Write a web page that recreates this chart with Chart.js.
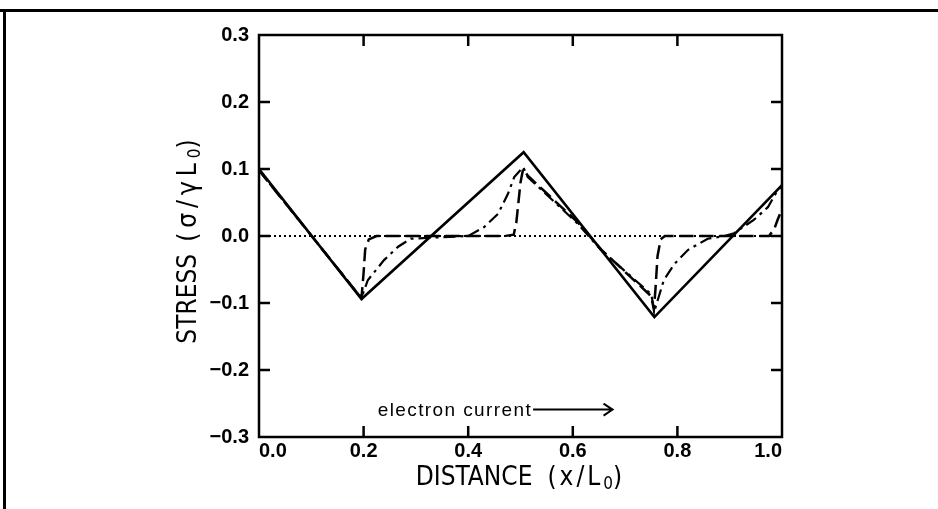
<!DOCTYPE html>
<html>
<head>
<meta charset="utf-8">
<script src="https://cdn.jsdelivr.net/npm/chart.js@4.4.1/dist/chart.umd.min.js"></script>
<style>
  html, body { margin: 0; padding: 0; background: #fff; }
  canvas { display: block; }
</style>
</head>
<body>
<canvas id="stress-chart" width="938" height="509"></canvas>
<script>
// values (x in x/L0, y in sigma/gammaL0)
const solidX = [0.0, 0.196, 0.506, 0.756, 1.0]
const solidY = [0.100, -0.094, 0.125, -0.121, 0.076]

const dashX = [0.0, 0.19, 0.196, 0.2, 0.203, 0.21, 0.225, 0.47, 0.487, 0.492, 0.496, 0.5, 0.505,
  0.514, 0.61, 0.654, 0.75, 0.755, 0.758, 0.762, 0.768, 0.776, 0.975, 0.985, 0.992, 1.0]
const dashY = [0.098, -0.087, -0.092, -0.055, -0.02, -0.005, 0.0, 0.0, 0.002, 0.02, 0.05, 0.08, 0.1,
  0.09, 0.02, -0.02, -0.09, -0.11, -0.08, -0.03, -0.005, 0.0, 0.0, 0.01, 0.025, 0.04]

const dashDotX = [0.0, 0.19, 0.196, 0.208, 0.239, 0.266, 0.29, 0.4, 0.43, 0.457, 0.476, 0.488, 0.505,
  0.514, 0.61, 0.654, 0.75, 0.756, 0.774, 0.794, 0.82, 0.858, 0.89, 0.908, 0.946, 0.973, 0.992, 1.0]
const dashDotY = [0.098, -0.087, -0.092, -0.066, -0.036, -0.016, -0.004, 0.0, 0.013, 0.033, 0.063, 0.088, 0.103,
  0.088, 0.018, -0.021, -0.087, -0.112, -0.066, -0.042, -0.021, -0.004, 0.0, 0.004, 0.024, 0.043, 0.069, 0.074]

const dotX = [0.0, 1.0]
const dotY = [0.0, 0.0]

const xRange = [0.0, 1.0]
const yRange = [-0.3, 0.3]

const xTitle = ['DISTANCE', '(x/L', '0', ')']
const yTitle = ['STRESS', '(σ/γL', '0', ')']
const note = 'electron current'

const pts = (xs, ys) => xs.map((x, i) => ({ x, y: ys[i] }))

const narrow = '"Liberation Sans Narrow", "DejaVu Sans Condensed", sans-serif'

function drawParts(ctx, parts, cx, baseY) {
  let total = 0
  parts.forEach(p => {
    ctx.font = p.font
    ctx.letterSpacing = p.ls || '0px'
    p.w = ctx.measureText(p.t).width + (p.gap || 0)
    total += p.w
  })
  let x = cx - total / 2
  parts.forEach(p => {
    ctx.font = p.font
    ctx.letterSpacing = p.ls || '0px'
    ctx.fillText(p.t, x, baseY + (p.dy || 0))
    x += p.w
  })
  ctx.letterSpacing = '0px'
}

const frameAndTicks = {
  id: 'frameAndTicks',
  beforeDraw(chart) {
    const ctx = chart.ctx
    ctx.save()
    ctx.fillStyle = '#fff'
    ctx.fillRect(0, 0, chart.width, chart.height)
    // scan page border
    ctx.strokeStyle = '#000'
    ctx.lineWidth = 3
    ctx.beginPath()
    ctx.moveTo(0, 10.5)
    ctx.lineTo(chart.width, 10.5)
    ctx.moveTo(4.5, 10)
    ctx.lineTo(4.5, chart.height)
    ctx.stroke()
    ctx.restore()
  },
  afterDraw(chart) {
    const { ctx, chartArea: a, scales: { x, y } } = chart
    ctx.save()
    ctx.strokeStyle = '#000'
    ctx.lineWidth = 2.5
    ctx.strokeRect(a.left, a.top, a.right - a.left, a.bottom - a.top)

    const len = 11
    ctx.beginPath()
    x.ticks.forEach(t => {
      if (t.value <= xRange[0] || t.value >= xRange[1]) return
      const px = x.getPixelForValue(t.value)
      ctx.moveTo(px, a.bottom)
      ctx.lineTo(px, a.bottom - len)
      ctx.moveTo(px, a.top)
      ctx.lineTo(px, a.top + len)
    })
    y.ticks.forEach(t => {
      if (t.value <= yRange[0] + 1e-9 || t.value >= yRange[1] - 1e-9) return
      const py = y.getPixelForValue(t.value)
      ctx.moveTo(a.left, py)
      ctx.lineTo(a.left + len, py)
      ctx.moveTo(a.right, py)
      ctx.lineTo(a.right - len, py)
    })
    ctx.stroke()

    // axis titles
    ctx.fillStyle = '#000'
    ctx.textAlign = 'left'
    ctx.textBaseline = 'alphabetic'
    const big = '26px ' + narrow
    const sub = '17px ' + narrow
    drawParts(ctx, [
      { t: xTitle[0], font: big, gap: 15 },
      { t: xTitle[1], font: big, ls: '3px' },
      { t: xTitle[2], font: sub, dy: 4 },
      { t: xTitle[3], font: big, ls: '3px' }
    ], (a.left + a.right) / 2, 485)

    ctx.save()
    ctx.translate(196, (a.top + a.bottom) / 2 + 4)
    ctx.rotate(-Math.PI / 2)
    drawParts(ctx, [
      { t: yTitle[0], font: big, gap: 12 },
      { t: yTitle[1], font: big, ls: '5px' },
      { t: yTitle[2], font: sub, dy: 4 },
      { t: yTitle[3], font: big, ls: '3px' }
    ], 0, 0)
    ctx.restore()

    // electron current note with arrow
    ctx.font = '19px "Liberation Sans", Arial, sans-serif'
    ctx.letterSpacing = '1.4px'
    const tx = x.getPixelForValue(0.227)
    const ty = y.getPixelForValue(-0.268)
    ctx.fillText(note, tx, ty)
    const tw = ctx.measureText(note).width
    ctx.letterSpacing = '0px'
    const ax0 = tx + tw + 1
    const ax1 = x.getPixelForValue(0.676)
    const ay = ty - 6
    ctx.lineWidth = 2
    ctx.beginPath()
    ctx.moveTo(ax0, ay)
    ctx.lineTo(ax1, ay)
    ctx.moveTo(ax1 - 9, ay - 6)
    ctx.lineTo(ax1, ay)
    ctx.lineTo(ax1 - 9, ay + 6)
    ctx.stroke()
    ctx.restore()
  }
}

const ctx = document.getElementById('stress-chart')

const tickFont = { family: '"Liberation Sans", Arial, sans-serif', size: 20, weight: 'bold' }

new Chart(ctx, {
  type: 'scatter',
  data: {
    datasets: [
      { label: 'initial', data: pts(dotX, dotY), borderColor: '#000', borderWidth: 2, borderDash: [2, 3] },
      { label: 'early', data: pts(dashX, dashY), borderColor: '#000', borderWidth: 2.5, borderDash: [14, 6] },
      { label: 'later', data: pts(dashDotX, dashDotY), borderColor: '#000', borderWidth: 2.2, borderDash: [12, 5, 3, 5] },
      { label: 'steady state', data: pts(solidX, solidY), borderColor: '#000', borderWidth: 2.6 }
    ]
  },
  options: {
    responsive: false,
    animation: false,
    showLine: true,
    elements: { point: { radius: 0 }, line: { tension: 0 } },
    layout: { padding: { left: 0, right: 156, top: 35, bottom: 0 } },
    plugins: {
      legend: { display: false },
      tooltip: { enabled: false }
    },
    scales: {
      x: {
        type: 'linear',
        min: xRange[0],
        max: xRange[1],
        grid: { display: false, drawTicks: false },
        border: { display: false },
        ticks: {
          stepSize: 0.2,
          align: 'inner',
          padding: 2,
          maxRotation: 0,
          color: '#000',
          font: tickFont,
          callback: v => v.toFixed(1)
        },
        afterFit: s => { s.height = 72 }
      },
      y: {
        type: 'linear',
        min: yRange[0],
        max: yRange[1],
        grid: { display: false, drawTicks: false },
        border: { display: false },
        ticks: {
          stepSize: 0.1,
          padding: 10,
          color: '#000',
          font: tickFont,
          callback: v => (v < -1e-9 ? '\u2212' : '') + Math.abs(v).toFixed(1)
        },
        afterFit: s => { s.width = 259 }
      }
    }
  },
  plugins: [frameAndTicks]
})
</script>
</body>
</html>
